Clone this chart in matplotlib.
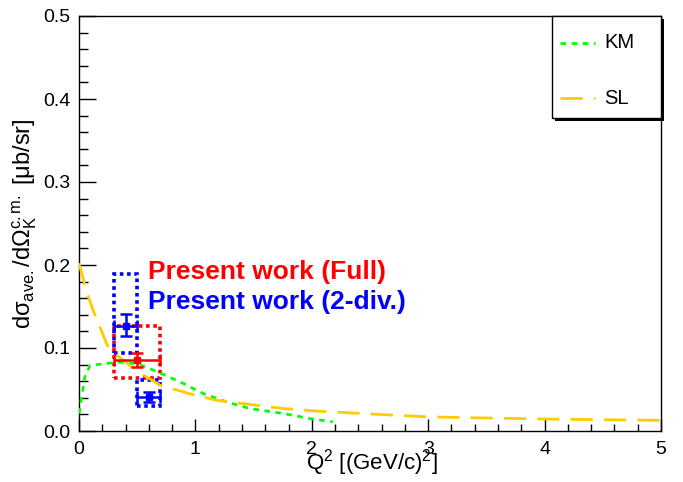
import matplotlib
matplotlib.use("Agg")
import matplotlib.pyplot as plt
from matplotlib.patches import Rectangle
from matplotlib.lines import Line2D
from matplotlib.ticker import MultipleLocator, FormatStrFormatter

plt.rcParams['font.family'] = ['Liberation Sans', 'DejaVu Sans']
plt.rcParams['mathtext.fontset'] = 'custom'
plt.rcParams['mathtext.rm'] = 'Liberation Sans'
plt.rcParams['mathtext.it'] = 'Liberation Sans:italic'
plt.rcParams['mathtext.bf'] = 'Liberation Sans:bold'

# KM model curve
km_x = [0, 0.01, 0.05, 0.095, 0.21, 0.35, 0.5, 0.61, 0.72, 0.9, 1.07, 1.27, 1.47, 1.76, 1.98, 2.18]
km_y = [0.021, 0.029, 0.065, 0.079, 0.081, 0.083, 0.081, 0.075, 0.0685, 0.057, 0.045, 0.035, 0.027, 0.021, 0.015, 0.011]

# SL model curve
sl_x = [0, 0.07, 0.13, 0.19, 0.24, 0.3, 0.5, 0.7, 0.95, 1.18, 1.47, 1.76, 2.04, 2.3, 3.0, 4.0, 5.0]
sl_y = [0.202, 0.166, 0.142, 0.122, 0.104, 0.094, 0.072, 0.055, 0.045, 0.037, 0.032, 0.027, 0.024, 0.022, 0.017, 0.0144, 0.0128]

# Present work (Full)
full_x = [0.5]
full_y = [0.086]
full_xerr = [0.2]
full_yerr_lo = [0.009]
full_yerr_hi = [0.008]
full_sys_lo = [0.064]
full_sys_hi = [0.126]

# Present work (2-div.)
div_x = [0.4, 0.6]
div_y = [0.127, 0.041]
div_xerr = [0.1, 0.1]
div_yerr_lo = [0.013, 0.006]
div_yerr_hi = [0.014, 0.0055]
div_sys_lo = [0.0945, 0.030]
div_sys_hi = [0.189, 0.061]

legend_labels = ['KM', 'SL']

KM_COLOR, SL_COLOR = '#00ff00', '#ffcc00'
KM_LS, SL_LS = (0, (2, 2)), (0, (8, 4))

fig = plt.figure(figsize=(6.83, 4.82), dpi=100)
ax = fig.add_axes([79/683, 51/482, 582/683, 415/482])

ax.set_xlim(0, 5)
ax.set_ylim(0, 0.5)

# systematic boxes
for x, dx, lo, hi in zip(full_x, full_xerr, full_sys_lo, full_sys_hi):
    ax.add_patch(Rectangle((x - dx, lo), 2 * dx, hi - lo, fill=False,
                           edgecolor='#ff0000', linestyle=(0, (1, 1)), linewidth=2.6, zorder=2))
for x, dx, lo, hi in zip(div_x, div_xerr, div_sys_lo, div_sys_hi):
    ax.add_patch(Rectangle((x - dx, lo), 2 * dx, hi - lo, fill=False,
                           edgecolor='#0000ff', linestyle=(0, (1, 1)), linewidth=2.6, zorder=2))

ax.plot(km_x, km_y, color=KM_COLOR, linestyle=KM_LS, linewidth=2, zorder=3)
ax.plot(sl_x, sl_y, color=SL_COLOR, linestyle=SL_LS, linewidth=2, zorder=3)

ax.errorbar(full_x, full_y, xerr=full_xerr, yerr=[full_yerr_lo, full_yerr_hi],
            fmt='s', color='#ff0000', markersize=5, capsize=4, elinewidth=1.8,
            capthick=1.8, zorder=4)
ax.errorbar(div_x, div_y, xerr=div_xerr, yerr=[div_yerr_lo, div_yerr_hi],
            fmt='s', color='#0000ff', markersize=5, capsize=4, elinewidth=1.8,
            capthick=1.8, zorder=4)

ax.text(0.593, 0.192, 'Present work (Full)', color='#ff0000', fontsize=19,
        fontweight='bold', va='center', ha='left')
ax.text(0.593, 0.156, 'Present work (2-div.)', color='#0000ff', fontsize=19,
        fontweight='bold', va='center', ha='left')

# ticks
ax.xaxis.set_major_locator(MultipleLocator(1))
ax.xaxis.set_minor_locator(MultipleLocator(0.2))
ax.yaxis.set_major_locator(MultipleLocator(0.1))
ax.yaxis.set_minor_locator(MultipleLocator(0.02))
ax.yaxis.set_major_formatter(FormatStrFormatter('%.1f'))
ax.tick_params(which='both', direction='in', top=False, right=False, labelsize=14, width=1)
ax.tick_params(axis='y', which='major', length=12.2, pad=6)
ax.tick_params(axis='y', which='minor', length=6.5)
ax.tick_params(axis='x', which='major', length=8.6, pad=7)
ax.tick_params(axis='x', which='minor', length=4.7)
for s in ax.spines.values():
    s.set_linewidth(1)

ax.set_xlabel(r'Q$^{2}$ [(GeV/c)$^{2}$]', fontsize=16, ha='right')
ax.xaxis.set_label_coords((438 - 79) / 582, -(469 - 431) / 415, transform=ax.transAxes)
ax.xaxis.label.set_va('baseline')
ax.set_ylabel('dσ$_{\\rm ave.}$/dΩ$_{\\rm K}^{\\rm c.m.}$ [μb/sr]', fontsize=17)
ax.yaxis.set_label_coords(-(79 - 25) / 582, 0.5, transform=ax.transAxes)
ax.yaxis.label.set_va('center')

# legend (ROOT-style box with shadow), placed in axes fraction
def px(xp):
    return (xp - 79) / 582

def py(yp):
    return (431 - yp) / 415

tr = ax.transAxes
ax.add_patch(Rectangle((px(555), py(121)), px(664) - px(555), py(19) - py(121),
                       transform=tr, facecolor='black', edgecolor='none',
                       clip_on=False, zorder=9))
ax.add_patch(Rectangle((px(552), py(118)), px(661) - px(552), py(16) - py(118),
                       transform=tr, facecolor='white', edgecolor='black',
                       linewidth=1, clip_on=False, zorder=10))
for (lbl, col, ls, yp) in zip(legend_labels, [KM_COLOR, SL_COLOR], [KM_LS, SL_LS], [43, 98]):
    ax.add_line(Line2D([px(560), px(595)], [py(yp), py(yp)], transform=tr,
                       color=col, linestyle=ls, linewidth=2, clip_on=False, zorder=11))
    ax.text(px(604), py(yp), lbl, transform=tr, fontsize=14.5, va='center',
            ha='left', zorder=11)

fig.savefig('out.png', dpi=100)
